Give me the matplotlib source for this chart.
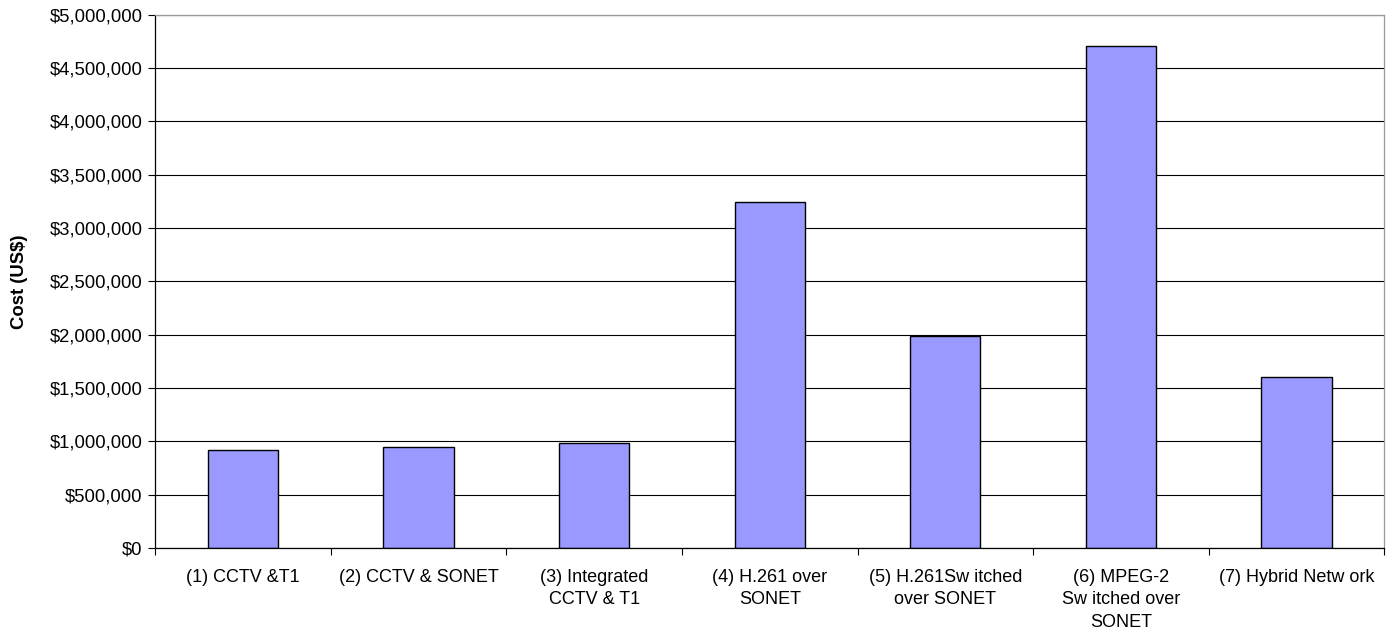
import numpy as np
import matplotlib.pyplot as plt
from matplotlib.ticker import FuncFormatter, FixedLocator

plt.rcParams['font.family'] = ['Liberation Sans', 'DejaVu Sans']

# Data
categories = [
    "(1) CCTV &T1",
    "(2) CCTV & SONET",
    "(3) Integrated\nCCTV & T1",
    "(4) H.261 over\nSONET",
    "(5) H.261Sw itched\nover SONET",
    "(6) MPEG-2\nSw itched over\nSONET",
    "(7) Hybrid Netw ork",
]
costs = [920000, 948000, 985000, 3244000, 1984000, 4703000, 1600000]
y_ticks = np.arange(0, 5000001, 500000)

fs = 13.3

fig = plt.figure(figsize=(13.97, 6.44), dpi=100)
ax = fig.add_axes([0.111, 0.149, 0.88, 0.828])

x = np.arange(len(categories))
ax.bar(x, costs, width=0.4, color='#9999FF', edgecolor='black', linewidth=1.0, zorder=3)

ax.set_xlim(-0.5, len(categories) - 0.5)
ax.set_ylim(0, 5000000)

# y axis
ax.set_yticks(y_ticks)
ax.yaxis.set_major_formatter(FuncFormatter(lambda v, p: f"${int(v):,}"))
ax.yaxis.grid(True, color='black', linewidth=0.8, zorder=0)
fig.text(20 / 1397, 1 - 282 / 644, 'Cost (US$)', rotation=90, ha='center', va='center',
         fontsize=fs, fontweight='bold')

# x axis: labels at centers, tick marks at category boundaries
ax.set_xticks(x)
ax.set_xticklabels(categories, fontsize=13, linespacing=1.42)
ax.tick_params(axis='x', which='major', length=0, pad=15)
ax.xaxis.set_minor_locator(FixedLocator(np.arange(-0.5, len(categories), 1.0)))
ax.tick_params(axis='x', which='minor', length=5, width=0.8, direction='out')
ax.tick_params(axis='y', length=5, width=0.8, direction='out', labelsize=fs, pad=4)

for lab in ax.get_xticklabels():
    lab.set_verticalalignment('top')

ax.spines['left'].set_color('black')
ax.spines['bottom'].set_color('black')
ax.spines['top'].set_color('#999999')
ax.spines['right'].set_color('#999999')
for s in ax.spines.values():
    s.set_linewidth(0.9)
    s.set_zorder(4)

fig.savefig('out.png', dpi=100)
